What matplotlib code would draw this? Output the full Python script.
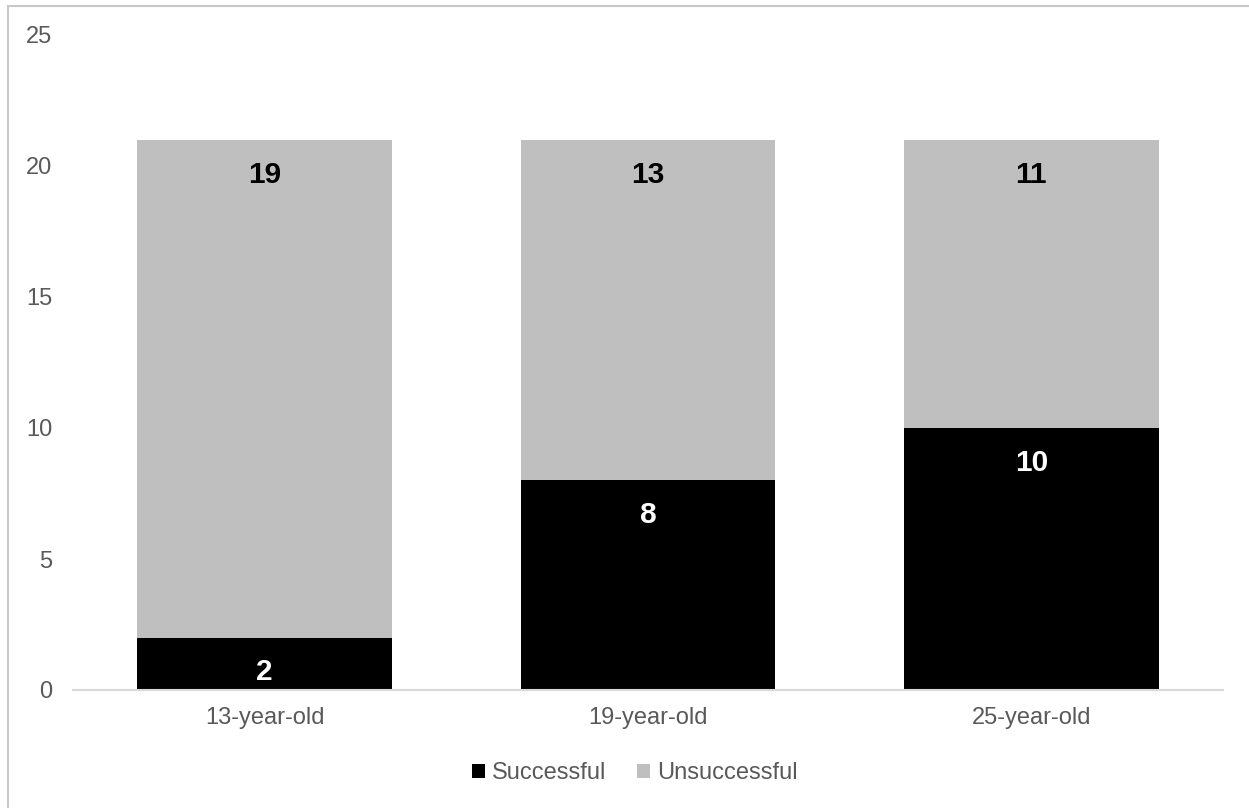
import matplotlib.pyplot as plt
from matplotlib.patches import Rectangle
import numpy as np

plt.rcParams['font.family'] = ['Liberation Sans', 'DejaVu Sans']

# data
groups = ['13-year-old', '19-year-old', '25-year-old']
successful = [2, 8, 10]
unsuccessful = [19, 13, 11]
yticks = [0, 5, 10, 15, 20, 25]

txt_col = '#595959'
grey = '#bfbfbf'

fig = plt.figure(figsize=(12.49, 8.08), dpi=100)
ax = fig.add_axes([73/1249, 118/808, 1150/1249, 655/808])

x = np.arange(len(groups))
w = 0.665
b1 = ax.bar(x, successful, w, color='black', label='Successful')
b2 = ax.bar(x, unsuccessful, w, bottom=successful, color=grey, label='Unsuccessful')

# value labels sit just under the top of each segment
for i in range(len(groups)):
    top1 = successful[i]
    top2 = successful[i] + unsuccessful[i]
    ax.annotate(str(successful[i]), (x[i], top1), xytext=(0, -25), textcoords='offset points',
                ha='center', va='center', color='white', fontsize=21.5, fontweight='bold')
    ax.annotate(str(unsuccessful[i]), (x[i], top2), xytext=(0, -25), textcoords='offset points',
                ha='center', va='center', color='black', fontsize=21.5, fontweight='bold')

ax.set_xlim(-0.5, 2.5)
ax.set_ylim(0, 25)
ax.set_yticks(yticks)
ax.set_xticks(x)
ax.set_xticklabels(groups)
ax.tick_params(axis='both', length=0, labelsize=17, colors=txt_col)
ax.tick_params(axis='y', pad=15)
ax.tick_params(axis='x', pad=12)
for s in ['top', 'right', 'left']:
    ax.spines[s].set_visible(False)
ax.spines['bottom'].set_color('#d9d9d9')
ax.spines['bottom'].set_linewidth(1.5)

leg = fig.legend(handles=[b1, b2], loc='center', bbox_to_anchor=(635/1249, 35/808), ncol=2,
                 frameon=False, fontsize=17, handlelength=0.55, handleheight=0.55,
                 handletextpad=0.3, columnspacing=1.3)
for t in leg.get_texts():
    t.set_color(txt_col)

# thin outer frame (only left/top visible in the crop)
fig.patches.append(Rectangle((8/1249, -0.1), 1.2, 0.1 + 802/808, transform=fig.transFigure,
                             fill=False, edgecolor='#c8c8c8', linewidth=1.5))

fig.savefig('out.png', dpi=100)
